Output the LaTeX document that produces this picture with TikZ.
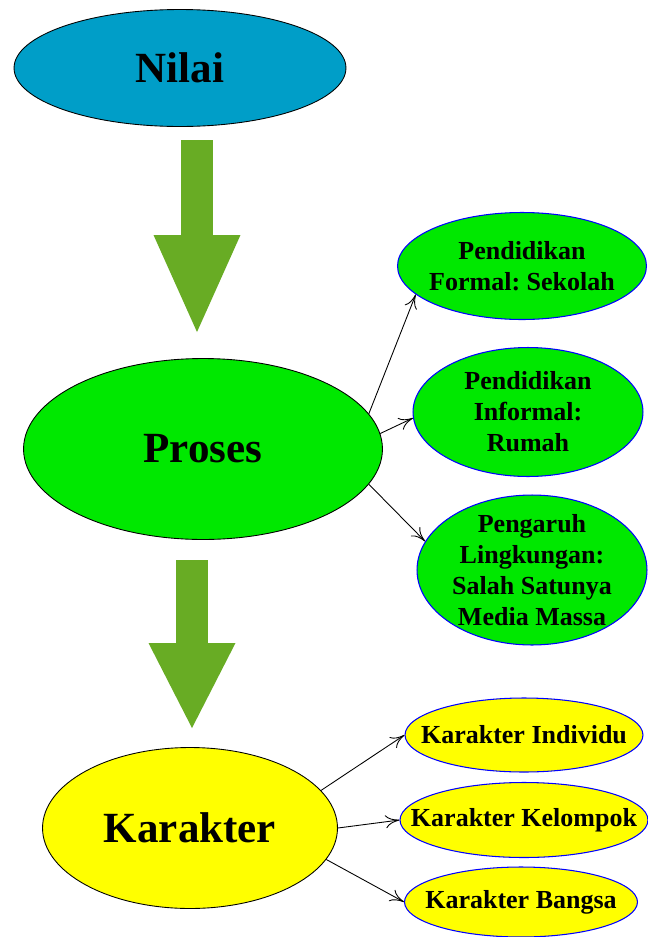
\documentclass[tikz,border=0pt]{standalone}
\usepackage{fontspec}
\setmainfont{Liberation Serif}
\frenchspacing
\usetikzlibrary{shapes.geometric,arrows.meta}
\definecolor{nilaiblue}{RGB}{0,158,200}
\definecolor{prosesgreen}{RGB}{0,232,0}
\definecolor{karakteryellow}{RGB}{255,255,0}
\definecolor{arrowgreen}{RGB}{104,172,36}

\begin{document}
\begin{tikzpicture}[x=0.02cm,y=-0.02cm,
  mainbox/.style={ellipse,draw=black,line width=0.5pt,inner sep=0pt,
    font=\fontsize{24.5pt}{29pt}\selectfont\bfseries},
  subbox/.style={ellipse,draw=blue,line width=0.6pt,inner sep=0pt},
  subtext/.style={align=center,inner sep=0pt,
    font=\fontsize{14.8pt}{17.6pt}\selectfont\bfseries},
  bigarrow/.style={draw=arrowgreen,line width=0.64cm,
    -{Triangle[width=1.74cm,length=#1,line width=0pt]}},
  thinarrow/.style={-{To[length=2.8mm,width=2.6mm]},line width=0.5pt}]
\useasboundingbox [fill=white] (0,0) rectangle (648,937);

% main ellipses
\node (nilai) at (180,68) [mainbox,fill=nilaiblue,minimum width=6.64cm,minimum height=2.34cm] {Nilai};
\node (proses) at (203,449) [mainbox,fill=prosesgreen,minimum width=7.18cm,minimum height=3.62cm] {Proses};
\node (karakter) at (190,828) [mainbox,fill=karakteryellow,minimum width=5.9cm,minimum height=3.22cm] {Karakter};

% proses branches
\node (formal) at (522,266) [subbox,fill=prosesgreen,minimum width=4.98cm,minimum height=2.14cm,
  label={[subtext]center:Pendidikan\\Formal: Sekolah}] {};
\node (informal) at (528,412) [subbox,fill=prosesgreen,minimum width=4.6cm,minimum height=2.58cm,
  label={[subtext]center:Pendidikan\\Informal:\\Rumah}] {};
\node (lingkungan) at (532,570) [subbox,fill=prosesgreen,minimum width=4.6cm,minimum height=3cm,
  label={[subtext]center:Pengaruh\\Lingkungan:\\Salah Satunya\\Media Massa}] {};

% karakter branches
\node (individu) at (524,735) [subbox,fill=karakteryellow,minimum width=4.76cm,minimum height=1.48cm,
  label={[subtext]center:Karakter Individu}] {};
\node (kelompok) at (524,820) [subbox,fill=karakteryellow,minimum width=4.96cm,minimum height=1.5cm,
  label={[subtext]center:Karakter Kelompok}] {};
\node (bangsa) at (521,902) [subbox,fill=karakteryellow,minimum width=4.66cm,minimum height=1.4cm,
  label={[subtext]center:Karakter Bangsa}] {};

% big arrows
\coordinate (a1s) at (197,140);
\coordinate (a1e) at (197,332);
\coordinate (a2s) at (192,560);
\coordinate (a2e) at (192,728);
\draw [bigarrow=1.94cm] (a1s) -- (a1e);
\draw [bigarrow=1.7cm] (a2s) -- (a2e);

\draw [thinarrow] (proses.12) -- (formal.195);
\draw [thinarrow] (proses.5) -- (informal.183);
\draw [thinarrow] (proses.-12) -- (lingkungan.165);

\draw [thinarrow] (karakter.16) -- (individu.west);
\draw [thinarrow] (karakter.0) -- (kelompok.west);
\draw [thinarrow] (karakter.-13) -- (bangsa.west);
\end{tikzpicture}
\end{document}
